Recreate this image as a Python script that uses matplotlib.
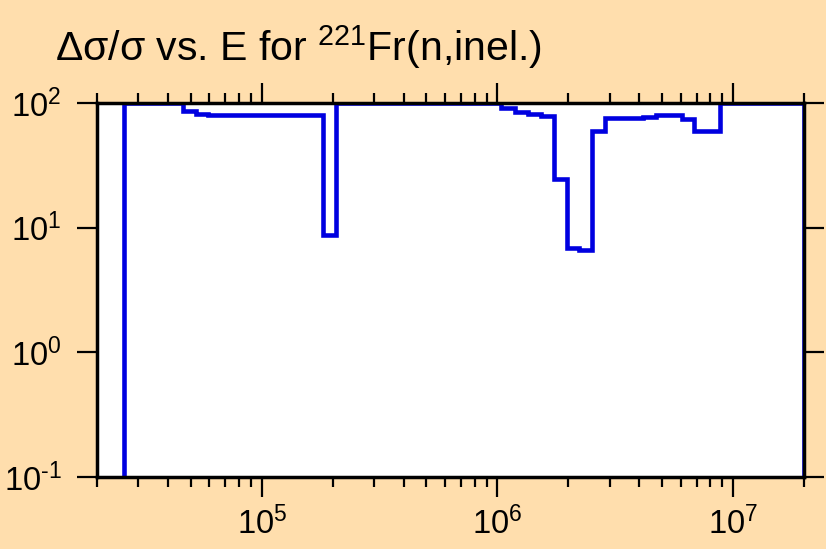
import matplotlib
matplotlib.use("Agg")
import matplotlib.pyplot as plt
from matplotlib.ticker import LogLocator, FixedLocator, NullLocator, FuncFormatter
import numpy as np

plt.rcParams['font.family'] = ['Liberation Sans', 'DejaVu Sans']
plt.rcParams['mathtext.fontset'] = 'custom'
plt.rcParams['mathtext.rm'] = 'Liberation Sans'
plt.rcParams['mathtext.it'] = 'Liberation Sans:italic'
plt.rcParams['mathtext.bf'] = 'Liberation Sans:bold'

# Group boundaries (eV) and relative uncertainty (%) per group
energy_edges = [2.0e4, 2.6e4, 4.64e4, 5.25e4, 5.9e4, 6.75e4, 1.82e5, 2.076e5,
                1.032e6, 1.186e6, 1.343e6, 1.53e6, 1.738e6, 1.968e6, 2.225e6,
                2.527e6, 2.872e6, 4.16e6, 4.71e6, 6.06e6, 6.85e6, 8.81e6, 2.0e7]
rel_unc = [0.01, 100, 86.3, 82.0, 80.6, 79.7, 8.69, 100,
           91.7, 85.2, 82.1, 78.7, 24.4, 6.9, 6.58,
           59.6, 75.8, 77.6, 80.1, 74.4, 59.6, 100]
x_ticks = [1e5, 1e6, 1e7]
y_ticks = [1e-1, 1e0, 1e1, 1e2]

bg = '#FFDEAD'
fig = plt.figure(figsize=(8.26, 5.49), dpi=100, facecolor=bg)
ax = fig.add_axes([97/826, 1-477/549, (804-97)/826, (477-103)/549])
ax.set_facecolor('white')

y = rel_unc + [0.01]
ax.step(energy_edges, y, where='post', color='#0000E0', lw=3.3, solid_joinstyle='miter')

ax.set_xscale('log')
ax.set_yscale('log')
ax.set_xlim(2e4, 2e7)
ax.set_ylim(0.1, 100)

ax.xaxis.set_major_locator(FixedLocator(x_ticks))
ax.xaxis.set_minor_locator(LogLocator(base=10, subs=np.arange(2, 10)))
ax.yaxis.set_major_locator(FixedLocator(y_ticks))
ax.yaxis.set_minor_locator(NullLocator())

def fmt(v, pos):
    e = int(round(np.log10(v)))
    if e < 0:
        return '$\\mathregular{10^{\u2010%d}}$' % (-e)
    return r'$\mathregular{10^{%d}}$' % e

ax.xaxis.set_major_formatter(FuncFormatter(fmt))
ax.yaxis.set_major_formatter(FuncFormatter(fmt))

ax.tick_params(which='both', direction='out', top=True, right=True, width=1.6, colors='black')
ax.tick_params(which='major', length=14.5, labelsize=23.5)
ax.tick_params(which='minor', length=7.5)
ax.tick_params(axis='x', which='major', pad=7)
ax.tick_params(axis='y', which='major', pad=11)
ax.tick_params(labeltop=False, labelright=False)

for s in ax.spines.values():
    s.set_linewidth(2.5)
    s.set_color('black')

fig.text(55/826, 1-61/549, 'Δσ/σ vs. E for $\\mathregular{^{221}}$Fr(n,inel.)',
         fontsize=29.5, va='baseline', ha='left')

fig.savefig('out.png', dpi=100, facecolor=bg)
